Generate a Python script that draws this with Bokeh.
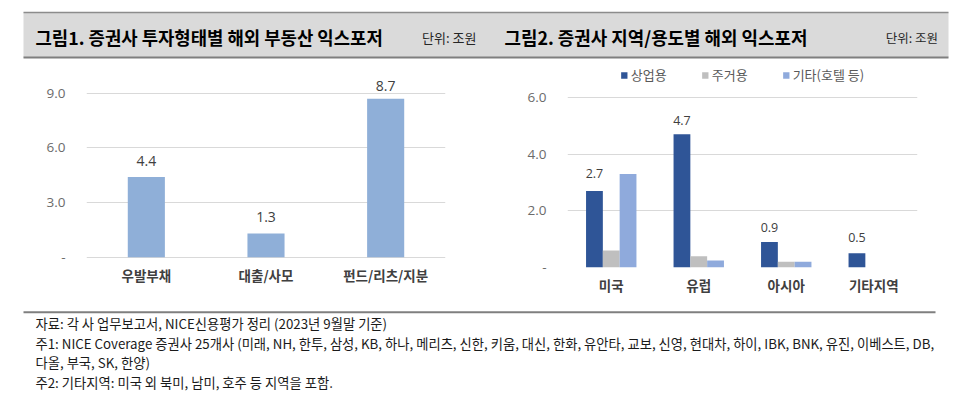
from bokeh.plotting import figure
from bokeh.layouts import column, row
from bokeh.models import Range1d, FactorRange, FixedTicker, ColumnDataSource, NumeralTickFormatter
from bokeh.transform import dodge
from bokeh.core.properties import value
from bokeh.embed import file_html
from bokeh.resources import INLINE

# ---------------- data ----------------
title1 = "그림1. 증권사 투자형태별 해외 부동산 익스포저"
title2 = "그림2. 증권사 지역/용도별 해외 익스포저"
unit_text = "단위: 조원"

types = ["우발부채", "대출/사모", "펀드/리츠/지분"]
type_values = [4.4, 1.3, 8.7]
left_ticks = [0, 3, 6, 9]

regions = ["미국", "유럽", "아시아", "기타지역"]
series_names = ["상업용", "주거용", "기타(호텔 등)"]
commercial = [2.7, 4.7, 0.9, 0.5]
residential = [0.6, 0.4, 0.2, 0.0]
other_use = [3.3, 0.25, 0.2, 0.0]
right_ticks = [0, 2, 4, 6]

notes = [
    "자료: 각 사 업무보고서, NICE신용평가 정리 (2023년 9월말 기준)",
    "주1: NICE Coverage 증권사 25개사 (미래, NH, 한투, 삼성, KB, 하나, 메리츠, 신한, 키움, 대신, 한화, 유안타, 교보, 신영, 현대차, 하이, IBK, BNK, 유진, 이베스트, DB,",
    "다올, 부국, SK, 한양)",
    "주2: 기타지역: 미국 외 북미, 남미, 호주 등 지역을 포함.",
]

# ---------------- styles ----------------
KR = "Noto Sans CJK KR"
NUM = "Open Sans"
W = 952
LEFT_BAR = "#8FAFD8"
C_COM = "#2F5597"
C_RES = "#BFBFBF"
C_OTH = "#8FAADC"
GRID = "#D9D9D9"


def blank(width, height):
    p = figure(width=width, height=height, x_range=Range1d(0, width), y_range=Range1d(height, 0),
               output_backend="svg", toolbar_location=None, min_border=0,
               x_axis_location=None, y_axis_location=None)
    p.grid.visible = False
    p.outline_line_color = None
    return p


# ---------------- header ----------------
header = blank(W, 60)
header.quad(left=23, right=948, top=12, bottom=57, fill_color="#DADADA", line_color=None)
header.segment(x0=23, x1=948, y0=12, y1=12, line_color="#8C8C8C", line_width=1.5)
header.segment(x0=23, x1=948, y0=57, y1=57, line_color="#7F7F7F", line_width=2)
header.text(x=[35], y=[36.7], text=[title1], text_font=value(KR), text_font_style="bold",
            text_font_size="17.8px", text_baseline="middle", text_color="#000000")
header.text(x=[421.5], y=[37], text=[unit_text], text_font=value(KR),
            text_font_size="13px", text_baseline="middle", text_color="#262626")
header.text(x=[504], y=[36.7], text=[title2], text_font=value(KR), text_font_style="bold",
            text_font_size="17.9px", text_baseline="middle", text_color="#000000")
header.text(x=[937.5], y=[37], text=[unit_text], text_font=value(KR), text_align="right",
            text_font_size="12.5px", text_baseline="middle", text_color="#262626")


def style_axes(p, ticks, standoff):
    p.outline_line_color = None
    p.xgrid.visible = False
    p.ygrid.ticker = FixedTicker(ticks=ticks)
    p.ygrid.grid_line_color = GRID
    p.ygrid.grid_line_width = 1.2
    p.yaxis.ticker = FixedTicker(ticks=ticks)
    p.yaxis.formatter = NumeralTickFormatter(format="0.0")
    p.yaxis.major_label_overrides = {0: "-"}
    p.yaxis.axis_line_color = None
    p.yaxis.major_tick_line_color = None
    p.yaxis.minor_tick_line_color = None
    p.yaxis.major_label_standoff = 15
    p.yaxis.major_label_text_font = NUM
    p.yaxis.major_label_text_font_size = "13.5px"
    p.yaxis.major_label_text_color = "#6B6B6B"
    p.xaxis.axis_line_color = None
    p.xaxis.major_tick_line_color = None
    p.xaxis.minor_tick_line_color = None
    p.xaxis.major_label_standoff = standoff
    p.xaxis.major_label_text_font = KR
    p.xaxis.major_label_text_font_style = "bold"
    p.xaxis.major_label_text_font_size = "13.5px"
    p.xaxis.major_label_text_color = "#404040"


# frames of both charts share the same vertical extent (image y 65 .. 267)
# ---------------- left chart ----------------
left = figure(width=488, height=240, x_range=FactorRange(*types), y_range=Range1d(-0.565, 10.52),
              output_backend="svg", toolbar_location=None,
              min_border_left=86, min_border_right=43, min_border_top=5, min_border_bottom=33)
style_axes(left, left_ticks, -9)
src1 = ColumnDataSource(dict(x=types, top=type_values,
                             label=[f"{v:.1f}" for v in type_values],
                             off=[-16, -17, -12.5]))
left.vbar(x="x", bottom=0, top="top", width=0.31, source=src1, fill_color=LEFT_BAR, line_color=None)
left.text(x="x", y="top", text="label", y_offset="off", source=src1, text_align="center",
          text_baseline="middle", text_font=value(NUM), text_font_size="14px", text_color="#404040")

# ---------------- right chart ----------------
right = figure(width=464, height=240, x_range=FactorRange(*regions), y_range=Range1d(0, 7.13),
               output_backend="svg", toolbar_location=None,
               min_border_left=79, min_border_right=35, min_border_top=5, min_border_bottom=33)
style_axes(right, right_ticks, 1)
bw = 0.192
src2 = ColumnDataSource(dict(x=regions, com=commercial, res=residential, oth=other_use,
                             label=[f"{v:.1f}" for v in commercial],
                             off=[-17.5, -13.5, -15, -16]))
right.vbar(x=dodge("x", -bw, range=right.x_range), top="com", width=bw, source=src2,
           fill_color=C_COM, line_color=None, legend_label=series_names[0])
right.vbar(x=dodge("x", 0, range=right.x_range), top="res", width=bw, source=src2,
           fill_color=C_RES, line_color=None, legend_label=series_names[1])
right.vbar(x=dodge("x", bw, range=right.x_range), top="oth", width=bw, source=src2,
           fill_color=C_OTH, line_color=None, legend_label=series_names[2])
right.text(x=dodge("x", -bw, range=right.x_range), y="com", text="label", y_offset="off", source=src2,
           text_align="center", text_baseline="middle", text_font=value(NUM),
           text_font_size="12.5px", text_color="#404040")
lg = right.legend[0]
lg.location = "top_center"
lg.orientation = "horizontal"
lg.glyph_width = 8
lg.glyph_height = 8
lg.label_height = 16
lg.label_standoff = 3
lg.spacing = 34
lg.padding = 4
lg.margin = 0
lg.border_line_color = None
lg.background_fill_alpha = 0
lg.label_text_font = KR
lg.label_text_font_size = "13px"
lg.label_text_color = "#595959"

# ---------------- footer ----------------
footer = blank(W, 99)
footer.segment(x0=23, x1=935, y0=11.7, y1=11.7, line_color="#7F7F7F", line_width=2)
footer.text(x=[35] * len(notes), y=[23.3, 42.8, 62.3, 81.8], text=notes, text_font=value(KR),
            text_font_size="13.3px", text_baseline="middle", text_color="#1A1A1A")

layout = column(header, row(left, right), footer)
open("out.html", "w").write(file_html(layout, INLINE))
